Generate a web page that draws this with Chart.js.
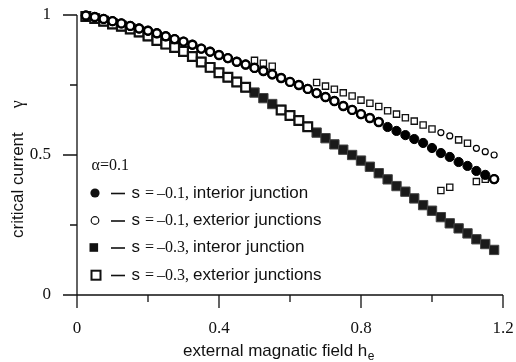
<!DOCTYPE html>
<html lang="en">
<head>
    <meta charset="UTF-8">
    <title>critical current vs external field</title>
    <style>
        body {
            margin: 0;
            padding: 0;
            background-color: #fff;
        }
        .chart-container {
            position: relative;
            width: 516px;
            height: 362px;
        }
    </style>
    <script src="https://cdn.jsdelivr.net/npm/chart.js@4.4.0/dist/chart.umd.min.js"></script>
</head>
<body>
    <div class="chart-container">
        <canvas id="gammaChart"></canvas>
    </div>

    <script>
        // external magnetic field h_e (common grid of the runs)
        const hField = [0.025, 0.05, 0.075, 0.1, 0.125, 0.15, 0.175, 0.2, 0.225, 0.25,
            0.275, 0.3, 0.325, 0.35, 0.375, 0.4, 0.425, 0.45, 0.475, 0.5,
            0.525, 0.55, 0.575, 0.6, 0.625, 0.65, 0.675, 0.7, 0.725, 0.75,
            0.775, 0.8, 0.825, 0.85, 0.875, 0.9, 0.925, 0.95, 0.975, 1.0,
            1.025, 1.05, 1.075, 1.1, 1.125, 1.15, 1.175];

        // s = -0.1, interior junction
        const gammaInt01 = [0.998, 0.993, 0.986, 0.978, 0.970, 0.961, 0.952, 0.944, 0.935, 0.924,
            0.914, 0.905, 0.894, 0.880, 0.869, 0.857, 0.846, 0.833, 0.823, 0.811,
            0.800, 0.788, 0.775, 0.761, 0.750, 0.736, 0.721, 0.707, 0.693, 0.675,
            0.661, 0.646, 0.632, 0.618, 0.600, 0.586, 0.571, 0.557, 0.543, 0.525,
            0.507, 0.493, 0.475, 0.461, 0.443, 0.429, 0.414];

        // s = -0.1, exterior junctions (on the curve)
        const gammaExt01 = [0.998, 0.993, 0.986, 0.978, 0.970, 0.961, 0.952, 0.944, 0.935, 0.924,
            0.914, 0.905, 0.894, 0.880, 0.869, 0.857, 0.846, 0.833, 0.823, 0.811,
            0.800, 0.788, 0.775, 0.761, 0.750, 0.736, 0.721, 0.707, 0.693, 0.675,
            0.661, 0.646, 0.632, 0.618, null, null, null, null, null, null,
            null, null, null, null, null, null, 0.414];

        // s = -0.3, interior junction
        const gammaInt03 = [0.995, 0.987, 0.978, 0.968, 0.960, 0.950, 0.939, 0.925, 0.909, 0.896,
            0.884, 0.870, 0.852, 0.832, 0.813, 0.794, 0.778, 0.761, 0.742, 0.723,
            0.703, 0.682, 0.661, 0.641, 0.623, 0.601, 0.580, 0.560, 0.538, 0.519,
            0.500, 0.480, 0.458, 0.435, 0.413, 0.389, 0.369, 0.345, 0.321, 0.301,
            0.278, 0.256, 0.238, 0.220, 0.199, 0.182, 0.161];

        // s = -0.3, exterior junctions (on the curve)
        const gammaExt03 = [0.995, 0.987, 0.978, 0.968, 0.960, 0.950, 0.939, 0.925, 0.909, 0.896,
            0.884, 0.870, 0.852, 0.832, 0.813, 0.794, 0.778, 0.761, 0.742, null,
            null, null, 0.661, 0.641, 0.623, 0.601, null, null, null, null,
            null, null, null, null, null, null, null, null, null, null,
            null, null, null, null, null, null, null];

        // exterior junctions off the curve (small marks)
        const offSquareH = [0.5, 0.525, 0.55, 0.675, 0.7, 0.725, 0.75, 0.775, 0.8, 0.825,
            0.85, 0.875, 0.9, 0.925, 0.95, 0.975, 1.0, 1.025, 1.05, 1.075,
            1.1, 1.125, 1.15];
        const offSquareGamma = [0.838, 0.828, 0.817, 0.759, 0.746, 0.735, 0.722, 0.711, 0.696, 0.685,
            0.673, 0.658, 0.646, 0.633, 0.621, 0.607, 0.593, 0.373, 0.385, 0.554,
            0.542, 0.405, 0.413];
        const offCircleH = [1.025, 1.05, 1.125, 1.15, 1.175];
        const offCircleGamma = [0.580, 0.568, 0.524, 0.512, 0.500];

        // ticks
        const xMajorTicks = [0, 0.4, 0.8, 1.2];
        const xMinorTicks = [0.2, 0.6, 1.0];
        const yMajorTicks = [0, 0.5, 1];
        const yMinorTicks = [0.25, 0.75];

        // legend text
        const alphaLabel = 'α=0.1';
        const sLabels = ['–0.1,', '–0.1,', '–0.3,', '–0.3,'];
        const junctionLabels = ['interior junction', 'exterior junctions', 'interor junction', 'exterior junctions'];

        const SERIF = '"Liberation Serif", "Times New Roman", serif';
        const SANS = '"Liberation Sans", Arial, sans-serif';

        function points(xs, ys) {
            return xs.map((v, i) => ({ x: v, y: ys[i] })).filter(p => p.y !== null);
        }

        // no extra side padding from the tick labels
        function noSidePadding(s) {
            s.paddingTop = 0;
            s.paddingBottom = 0;
            s.paddingLeft = 0;
            s.paddingRight = 0;
        }

        // axis lines, ticks, titles and the legend box
        const decorations = {
            id: 'decorations',
            beforeDatasetsDraw(chart) {
                const { ctx, scales: { x, y } } = chart;
                const x0 = x.getPixelForValue(0);
                const y0 = y.getPixelForValue(0);
                ctx.save();
                ctx.strokeStyle = '#111';
                ctx.lineWidth = 1.3;
                ctx.beginPath();
                ctx.moveTo(x0 - 14, y0);
                ctx.lineTo(x.getPixelForValue(1.2), y0);
                ctx.moveTo(x0, y.getPixelForValue(1));
                ctx.lineTo(x0, y0 + 13);
                xMajorTicks.forEach(v => {
                    const px = x.getPixelForValue(v);
                    ctx.moveTo(px, y0);
                    ctx.lineTo(px, y0 + 13);
                });
                xMinorTicks.forEach(v => {
                    const px = x.getPixelForValue(v);
                    ctx.moveTo(px, y0);
                    ctx.lineTo(px, y0 + 7);
                });
                yMajorTicks.forEach(v => {
                    const py = y.getPixelForValue(v);
                    ctx.moveTo(x0 - 14, py);
                    ctx.lineTo(x0, py);
                });
                yMinorTicks.forEach(v => {
                    const py = y.getPixelForValue(v);
                    ctx.moveTo(x0 - 7, py);
                    ctx.lineTo(x0, py);
                });
                ctx.stroke();
                ctx.restore();
            },
            afterDraw(chart) {
                const { ctx } = chart;
                ctx.save();
                ctx.fillStyle = '#111';
                ctx.strokeStyle = '#111';

                // x title with subscript
                ctx.textBaseline = 'alphabetic';
                ctx.textAlign = 'left';
                ctx.font = '17px ' + SANS;
                const xt = 'external magnatic field h';
                ctx.fillText(xt, 183, 356);
                const w = ctx.measureText(xt).width;
                ctx.font = '12px ' + SANS;
                ctx.fillText('e', 183 + w + 0.5, 360);

                // y title, rotated
                ctx.save();
                ctx.translate(22.5, 238);
                ctx.rotate(-Math.PI / 2);
                ctx.font = '17px ' + SANS;
                ctx.fillText('critical current', 0, 0);
                const yw = ctx.measureText('critical current').width;
                ctx.font = '18px ' + SERIF;
                ctx.fillText('γ', yw + 24, 0);
                ctx.restore();

                // legend
                ctx.font = '16px ' + SERIF;
                ctx.fillText(alphaLabel, 91.5, 169.5);
                const rows = [193, 220.5, 247.5, 275];
                rows.forEach((ry, i) => {
                    ctx.lineWidth = 1.5;
                    ctx.beginPath();
                    if (i === 0) {
                        ctx.arc(95, ry, 4.6, 0, Math.PI * 2);
                        ctx.fill();
                    } else if (i === 1) {
                        ctx.lineWidth = 1.2;
                        ctx.arc(95, ry, 3.8, 0, Math.PI * 2);
                        ctx.stroke();
                    } else if (i === 2) {
                        ctx.fillRect(89.5, ry - 4.3, 8.6, 8.6);
                    } else {
                        ctx.lineWidth = 2;
                        ctx.strokeRect(91.5, ry - 4.3, 9, 9);
                    }
                    ctx.lineWidth = 1.6;
                    ctx.beginPath();
                    ctx.moveTo(111, ry + 0.5);
                    ctx.lineTo(125, ry + 0.5);
                    ctx.stroke();
                    const base = ry + 4.5;
                    ctx.font = '17px ' + SANS;
                    ctx.fillText('s', 131.5, base);
                    ctx.font = '16px ' + SERIF;
                    ctx.fillText('=', 145, base);
                    ctx.fillText(sLabels[i], 157, base);
                    ctx.font = '17px ' + SANS;
                    ctx.fillText(junctionLabels[i], 193, base);
                });
                ctx.restore();
            }
        };

        const ctx = document.getElementById('gammaChart').getContext('2d');
        const gammaChart = new Chart(ctx, {
            type: 'scatter',
            data: {
                datasets: [
                    {
                        label: 's = -0.1, exterior junctions',
                        data: points(hField, gammaExt01),
                        pointStyle: 'circle',
                        pointRadius: 4,
                        borderWidth: 2.4,
                        borderColor: '#000',
                        backgroundColor: '#fff'
                    },
                    {
                        label: 's = -0.1, interior junction',
                        data: points(hField, gammaInt01),
                        pointStyle: 'circle',
                        pointRadius: 4.6,
                        borderWidth: 1,
                        borderColor: '#000',
                        backgroundColor: '#000'
                    },
                    {
                        label: 's = -0.1, exterior (off curve)',
                        data: points(offCircleH, offCircleGamma),
                        pointStyle: 'circle',
                        pointRadius: 3,
                        borderWidth: 1.2,
                        borderColor: '#000',
                        backgroundColor: '#fff'
                    },
                    {
                        label: 's = -0.3, exterior (off curve)',
                        data: points(offSquareH, offSquareGamma),
                        pointStyle: 'rect',
                        pointRadius: 4.4,
                        borderWidth: 1.3,
                        borderColor: '#111',
                        backgroundColor: '#fff'
                    },
                    {
                        label: 's = -0.3, exterior junctions',
                        data: points(hField, gammaExt03),
                        pointStyle: 'rect',
                        pointRadius: 6.2,
                        borderWidth: 2.2,
                        borderColor: '#111',
                        backgroundColor: '#fff'
                    },
                    {
                        label: 's = -0.3, interor junction',
                        data: points(hField, gammaInt03),
                        pointStyle: 'rect',
                        pointRadius: 6.6,
                        borderWidth: 1,
                        borderColor: '#444',
                        backgroundColor: '#1a1a1a'
                    }
                ].map(d => Object.assign(d, { showLine: false, clip: false }))
            },
            options: {
                responsive: true,
                maintainAspectRatio: false,
                devicePixelRatio: 1,
                animation: false,
                events: [],
                layout: {
                    padding: { left: 0, top: 15, right: 13, bottom: 0 }
                },
                plugins: {
                    legend: { display: false },
                    tooltip: { enabled: false }
                },
                scales: {
                    x: {
                        type: 'linear',
                        min: 0,
                        max: 1.2,
                        grid: { display: false },
                        border: { display: false },
                        ticks: {
                            stepSize: 0.4,
                            padding: 15,
                            maxRotation: 0,
                            color: '#111',
                            font: { family: SERIF, size: 17 },
                            callback: v => String(+v.toFixed(2))
                        },
                        afterFit: s => { s.height = 67; noSidePadding(s); }
                    },
                    y: {
                        min: 0,
                        max: 1,
                        grid: { display: false },
                        border: { display: false },
                        ticks: {
                            stepSize: 0.5,
                            padding: 18,
                            color: '#111',
                            font: { family: SERIF, size: 17 },
                            callback: v => String(+v.toFixed(2))
                        },
                        afterFit: s => { s.width = 77; noSidePadding(s); }
                    }
                }
            },
            plugins: [decorations]
        });
    </script>
</body>
</html>
